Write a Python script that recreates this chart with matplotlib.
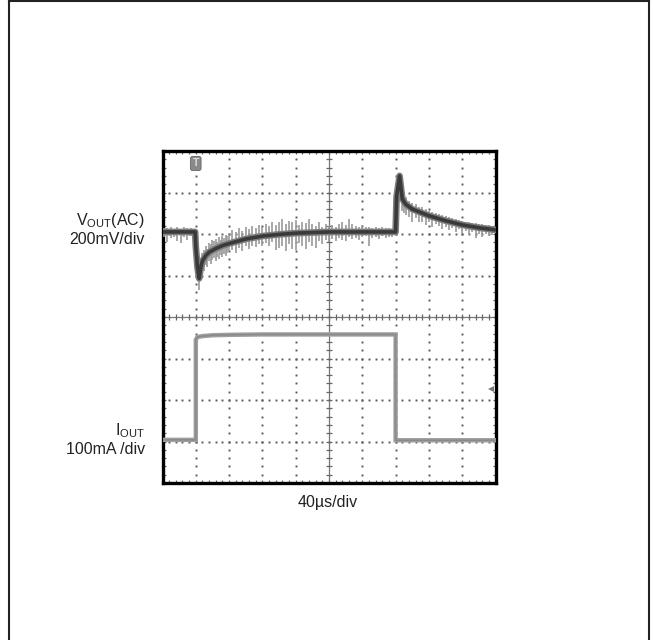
import numpy as np
import matplotlib
matplotlib.use("Agg")
import matplotlib.pyplot as plt
from matplotlib.lines import Line2D

plt.rcParams['font.family'] = ['Liberation Sans', 'DejaVu Sans']
plt.rcParams['mathtext.fontset'] = 'custom'
plt.rcParams['mathtext.rm'] = 'Liberation Sans'
plt.rcParams['mathtext.it'] = 'Liberation Sans'

# ---------------- data (in screen divisions) ----------------
# V_OUT(AC) averaged (dark) trace
vout_x = [0.0, 0.98, 1.0, 1.05, 1.1, 1.15, 1.2, 1.3, 1.4, 1.6, 1.8, 2.0, 2.5, 3.0,
          3.5, 4.0, 5.0, 6.0, 7.0, 7.03, 7.12, 7.2, 7.3, 7.5, 7.75, 8.0, 8.5, 9.0,
          9.5, 10.0]
vout_y = [6.05, 6.05, 5.7, 5.2, 4.93, 5.2, 5.35, 5.48, 5.56, 5.65, 5.72, 5.77, 5.88,
          5.95, 5.99, 6.02, 6.05, 6.05, 6.05, 6.9, 7.40, 6.85, 6.72, 6.60, 6.52, 6.44,
          6.32, 6.22, 6.15, 6.10]

# V_OUT noise (light grey envelope spikes)
spike_x = [0.05, 0.15, 0.25, 0.35, 0.45, 0.55, 0.65, 0.75, 0.85, 0.95,
           1.05, 1.10, 1.15, 1.20, 1.25, 1.30, 1.35, 1.40, 1.45, 1.50, 1.55, 1.60,
           1.65, 1.70, 1.75, 1.80, 1.85, 1.90, 1.95,
           2.0, 2.1, 2.2, 2.3, 2.4, 2.5, 2.6, 2.7, 2.8, 2.9, 3.0, 3.1, 3.2, 3.3, 3.4,
           3.5, 3.6, 3.7, 3.8, 3.9, 4.0, 4.1, 4.2, 4.3, 4.4, 4.5, 4.6, 4.7, 4.8, 4.9,
           5.0, 5.1, 5.2, 5.3, 5.4, 5.5, 5.6, 5.7, 5.8, 5.9, 6.0, 6.1, 6.2, 6.3, 6.4,
           6.5, 6.6, 6.7, 6.8, 6.9,
           7.05, 7.1, 7.15, 7.2, 7.25, 7.3, 7.4, 7.5, 7.6, 7.7, 7.8, 7.9, 8.0, 8.1,
           8.2, 8.3, 8.4, 8.5, 8.6, 8.7, 8.8, 8.9, 9.0, 9.1, 9.2, 9.3, 9.4, 9.5, 9.6,
           9.7, 9.8, 9.9]
spike_lo = [5.92, 5.80, 5.90, 5.93, 5.82, 5.78, 5.92, 5.85, 5.94, 5.88,
            5.00, 4.65, 4.95, 5.15, 5.12, 5.25, 5.20, 5.35, 5.28, 5.38, 5.42, 5.35,
            5.45, 5.40, 5.50, 5.45, 5.52, 5.48, 5.55,
            5.58, 5.62, 5.55, 5.66, 5.60, 5.70, 5.64, 5.72, 5.68, 5.75, 5.72, 5.78,
            5.70, 5.80, 5.62, 5.66, 5.72, 5.60, 5.75, 5.65, 5.62, 5.78, 5.70, 5.64,
            5.80, 5.72, 5.66, 5.82, 5.75, 5.85, 5.80, 5.88, 5.82, 5.90, 5.86, 5.84,
            5.92, 5.88, 5.90, 5.86, 5.92, 5.94, 5.70, 5.90, 5.92, 5.88, 5.95, 5.90,
            5.93, 5.92,
            6.70, 7.00, 6.80, 6.55, 6.50, 6.45, 6.40, 6.30, 6.38, 6.28, 6.30, 6.22,
            6.30, 6.18, 6.25, 6.20, 6.12, 6.18, 6.10, 6.15, 6.05, 6.12, 6.02, 6.08,
            5.98, 6.04, 5.90, 6.00, 5.92, 6.00, 5.95, 5.98]
spike_hi = [6.15, 6.14, 6.18, 6.12, 6.16, 6.13, 6.17, 6.14, 6.15, 6.13,
            5.40, 5.10, 5.42, 5.55, 5.62, 5.70, 5.65, 5.78, 5.75, 5.85, 5.82, 5.88,
            5.80, 5.92, 5.86, 5.95, 5.90, 5.98, 5.94,
            6.00, 6.10, 6.05, 6.15, 6.08, 6.18, 6.12, 6.20, 6.15, 6.22, 6.18, 6.25,
            6.20, 6.28, 6.22, 6.30, 6.35, 6.25, 6.32, 6.28, 6.34, 6.22, 6.30, 6.26,
            6.35, 6.24, 6.20, 6.28, 6.18, 6.25, 6.20, 6.22, 6.16, 6.25, 6.30, 6.22,
            6.35, 6.24, 6.20, 6.18, 6.22, 6.16, 6.18, 6.14, 6.17, 6.15, 6.16, 6.14,
            6.15, 6.13,
            7.10, 7.45, 7.30, 7.00, 6.95, 6.88, 6.80, 6.75, 6.72, 6.66, 6.64, 6.60,
            6.56, 6.54, 6.50, 6.48, 6.45, 6.43, 6.40, 6.38, 6.36, 6.34, 6.32, 6.30,
            6.28, 6.27, 6.26, 6.24, 6.23, 6.22, 6.21, 6.20]

# I_OUT trace
iout_x = [0.0, 1.0, 1.0, 1.05, 1.2, 1.5, 2.0, 3.0, 5.0, 7.0, 7.0, 10.0]
iout_y = [1.04, 1.04, 3.45, 3.52, 3.54, 3.56, 3.57, 3.58, 3.58, 3.58, 1.03, 1.03]

# text labels
vout_label = [r'V$_{\mathrm{OUT}}$(AC)', '200mV/div']
iout_label = [r'I$_{\mathrm{OUT}}$', '100mA /div']
time_label = '40µs/div'

# ---------------- figure ----------------
W, H = 653, 640
fig = plt.figure(figsize=(W / 100, H / 100), dpi=100)
fig.patch.set_facecolor('white')

# outer frame (left, top, right)
lw_frame = 1.5
fig.add_artist(Line2D([8.5 / W, 8.5 / W], [0, 1 - 0.8 / H], transform=fig.transFigure,
                      color='#222222', lw=lw_frame))
fig.add_artist(Line2D([8.5 / W, 649 / W], [1 - 0.8 / H, 1 - 0.8 / H], transform=fig.transFigure,
                      color='#222222', lw=lw_frame))
fig.add_artist(Line2D([649 / W, 649 / W], [0, 1 - 0.8 / H], transform=fig.transFigure,
                      color='#222222', lw=lw_frame))

ax = fig.add_axes([162.5 / W, 1 - 483 / H, 333 / W, 332 / H])
ax.set_xlim(0, 10)
ax.set_ylim(0, 8)
for s in ax.spines.values():
    s.set_linewidth(2.4)
    s.set_color('black')

ax.set_xticks(np.arange(0, 10.01, 1))
ax.set_yticks(np.arange(0, 8.01, 1))
ax.set_xticks(np.arange(0, 10.01, 0.2), minor=True)
ax.set_yticks(np.arange(0, 8.01, 0.2), minor=True)
ax.tick_params(which='both', direction='in', length=2.5, width=0.9, color='#666666',
               top=True, right=True, labelbottom=False, labelleft=False)

# dotted graticule
grid_c = '#5a5a5a'
dots_y = np.arange(0, 8.001, 0.2)
dots_x = np.arange(0, 10.001, 0.2)
for gx in range(1, 10):
    if gx == 5:
        continue
    ax.plot(np.full_like(dots_y, gx), dots_y, ls='none', marker='s', ms=1.4,
            color=grid_c, mew=0, zorder=1)
for gy in range(1, 8):
    if gy == 4:
        continue
    ax.plot(dots_x, np.full_like(dots_x, gy), ls='none', marker='s', ms=1.4,
            color=grid_c, mew=0, zorder=1)
# centre axes with tick marks
ax.axvline(5, color='#777777', lw=0.9, zorder=1)
ax.axhline(4, color='#777777', lw=0.9, zorder=1)
ax.plot(dots_x, np.full_like(dots_x, 4), ls='none', marker='|', ms=5, mew=0.9,
        color='#666666', zorder=1)
ax.plot(np.full_like(dots_y, 5), dots_y, ls='none', marker='_', ms=5, mew=0.9,
        color='#666666', zorder=1)

# I_OUT trace
ax.plot(iout_x, iout_y, color='#a0a0a0', lw=3.2, solid_joinstyle='miter', zorder=3)
ax.plot(iout_x, iout_y, color='#8a8a8a', lw=1.2, zorder=3)

# V_OUT noise spikes and trace
ax.vlines(spike_x, spike_lo, spike_hi, color='#9a9a9a', lw=1.2, zorder=3)
ax.plot(vout_x, vout_y, color='#7d7d7d', lw=4.8, solid_joinstyle='round', zorder=4)
ax.plot(vout_x, vout_y, color='#3a3a3a', lw=2.6, solid_joinstyle='round', zorder=5)

# trigger marker and level arrow
ax.text(1.0, 7.7, 'T', ha='center', va='center', fontsize=7.5, fontweight='bold',
        color='#dddddd', zorder=6,
        bbox=dict(boxstyle='round,pad=0.2', fc='#8a8a8a', ec='#666666', lw=0.6))
ax.plot(9.86, 2.27, marker='<', ms=5, color='#777777', mew=0, zorder=6)

# labels
fs = 11.5
tc = '#222222'
fig.text(145 / W, 1 - 221 / H, vout_label[0], ha='right', va='center', fontsize=fs, color=tc)
fig.text(145 / W, 1 - 239 / H, vout_label[1], ha='right', va='center', fontsize=fs, color=tc)
fig.text(145 / W, 1 - 431 / H, iout_label[0], ha='right', va='center', fontsize=fs, color=tc)
fig.text(145 / W, 1 - 449 / H, iout_label[1], ha='right', va='center', fontsize=fs, color=tc)
fig.text(327.5 / W, 1 - 503 / H, time_label, ha='center', va='center', fontsize=fs, color=tc)

fig.savefig('out.png', dpi=100, facecolor='white')
